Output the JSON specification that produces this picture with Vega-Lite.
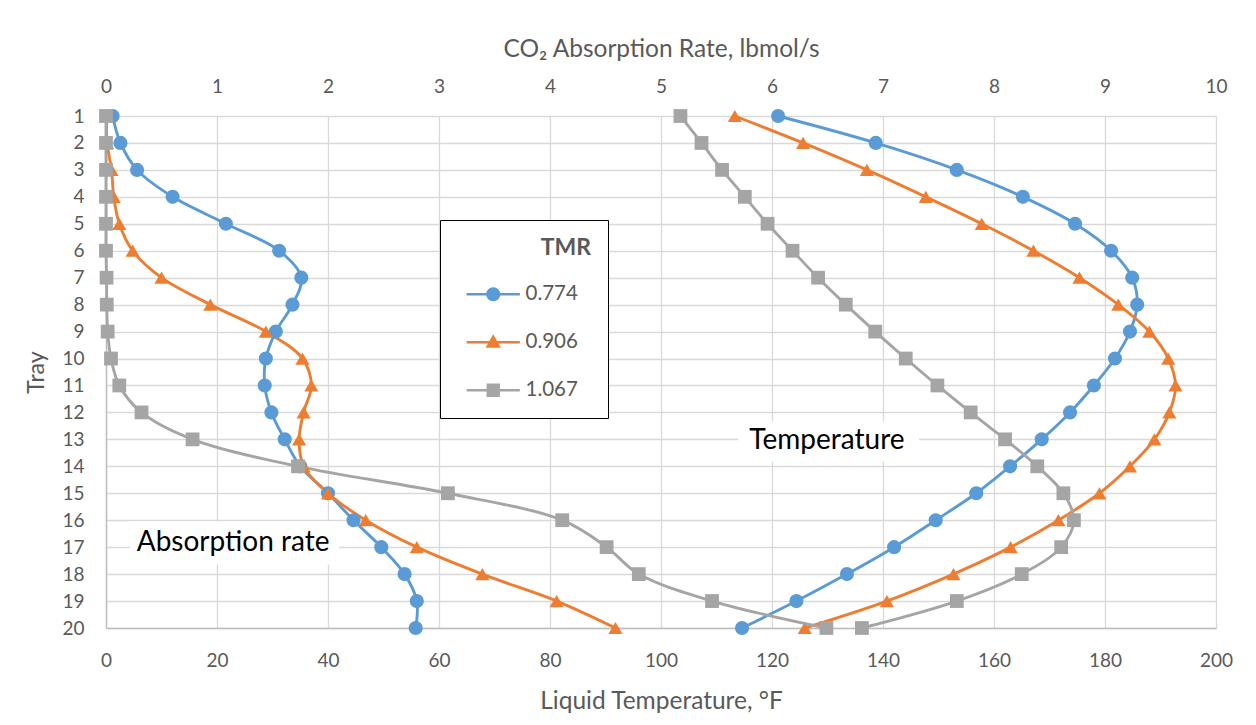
{
  "$schema": "https://vega.github.io/schema/vega-lite/v6.json",
  "width": 1110,
  "height": 512,
  "autosize": {"type": "none"},
  "padding": {"left": 106, "top": 116, "right": 40, "bottom": 97},
  "background": "white",
  "config": {
    "font": "Lato",
    "view": {"stroke": null},
    "axis": {
      "labelColor": "#595959", "titleColor": "#595959", "labelFontSize": 19, "titleFontSize": 24.5,
      "titleFontWeight": "normal", "ticks": false, "tickSize": 0, "gridColor": "#D9D9D9", "gridWidth": 1.3,
      "domainColor": "#BFBFBF", "domainWidth": 1.5, "labelFont": "Lato", "titleFont": "Lato", "labelFlush": false,
      "labelOverlap": false
    }
  },
  "datasets": {
    "trays": [
      {"tmr": "0.774", "tray": 1, "temp": 121.1, "rate": 0.06},
      {"tmr": "0.774", "tray": 2, "temp": 138.7, "rate": 0.13},
      {"tmr": "0.774", "tray": 3, "temp": 153.3, "rate": 0.28},
      {"tmr": "0.774", "tray": 4, "temp": 165.2, "rate": 0.6},
      {"tmr": "0.774", "tray": 5, "temp": 174.6, "rate": 1.08},
      {"tmr": "0.774", "tray": 6, "temp": 181.1, "rate": 1.56},
      {"tmr": "0.774", "tray": 7, "temp": 184.9, "rate": 1.76},
      {"tmr": "0.774", "tray": 8, "temp": 185.8, "rate": 1.68},
      {"tmr": "0.774", "tray": 9, "temp": 184.5, "rate": 1.53},
      {"tmr": "0.774", "tray": 10, "temp": 181.8, "rate": 1.44},
      {"tmr": "0.774", "tray": 11, "temp": 178.0, "rate": 1.43},
      {"tmr": "0.774", "tray": 12, "temp": 173.7, "rate": 1.49},
      {"tmr": "0.774", "tray": 13, "temp": 168.6, "rate": 1.61},
      {"tmr": "0.774", "tray": 14, "temp": 162.9, "rate": 1.75},
      {"tmr": "0.774", "tray": 15, "temp": 156.8, "rate": 2.0},
      {"tmr": "0.774", "tray": 16, "temp": 149.5, "rate": 2.23},
      {"tmr": "0.774", "tray": 17, "temp": 142.0, "rate": 2.48},
      {"tmr": "0.774", "tray": 18, "temp": 133.5, "rate": 2.69},
      {"tmr": "0.774", "tray": 19, "temp": 124.4, "rate": 2.8},
      {"tmr": "0.774", "tray": 20, "temp": 114.6, "rate": 2.79},
      {"tmr": "0.906", "tray": 1, "temp": 113.3, "rate": 0.005},
      {"tmr": "0.906", "tray": 2, "temp": 125.6, "rate": 0.01},
      {"tmr": "0.906", "tray": 3, "temp": 137.1, "rate": 0.05},
      {"tmr": "0.906", "tray": 4, "temp": 147.7, "rate": 0.07},
      {"tmr": "0.906", "tray": 5, "temp": 157.8, "rate": 0.12},
      {"tmr": "0.906", "tray": 6, "temp": 167.1, "rate": 0.24},
      {"tmr": "0.906", "tray": 7, "temp": 175.4, "rate": 0.5},
      {"tmr": "0.906", "tray": 8, "temp": 182.4, "rate": 0.94},
      {"tmr": "0.906", "tray": 9, "temp": 188.0, "rate": 1.44},
      {"tmr": "0.906", "tray": 10, "temp": 191.4, "rate": 1.77},
      {"tmr": "0.906", "tray": 11, "temp": 192.7, "rate": 1.85},
      {"tmr": "0.906", "tray": 12, "temp": 191.6, "rate": 1.78},
      {"tmr": "0.906", "tray": 13, "temp": 188.9, "rate": 1.74},
      {"tmr": "0.906", "tray": 14, "temp": 184.5, "rate": 1.78},
      {"tmr": "0.906", "tray": 15, "temp": 179.0, "rate": 2.0},
      {"tmr": "0.906", "tray": 16, "temp": 171.6, "rate": 2.34},
      {"tmr": "0.906", "tray": 17, "temp": 163.0, "rate": 2.8},
      {"tmr": "0.906", "tray": 18, "temp": 152.7, "rate": 3.39},
      {"tmr": "0.906", "tray": 19, "temp": 140.7, "rate": 4.06},
      {"tmr": "0.906", "tray": 20, "temp": 125.9, "rate": 4.59},
      {"tmr": "1.067", "tray": 1, "temp": 103.5, "rate": 0.0},
      {"tmr": "1.067", "tray": 2, "temp": 107.3, "rate": 0.0},
      {"tmr": "1.067", "tray": 3, "temp": 111.0, "rate": 0.0},
      {"tmr": "1.067", "tray": 4, "temp": 115.1, "rate": 0.0},
      {"tmr": "1.067", "tray": 5, "temp": 119.2, "rate": 0.0},
      {"tmr": "1.067", "tray": 6, "temp": 123.7, "rate": 0.0},
      {"tmr": "1.067", "tray": 7, "temp": 128.3, "rate": 0.005},
      {"tmr": "1.067", "tray": 8, "temp": 133.3, "rate": 0.007},
      {"tmr": "1.067", "tray": 9, "temp": 138.6, "rate": 0.015},
      {"tmr": "1.067", "tray": 10, "temp": 144.1, "rate": 0.045},
      {"tmr": "1.067", "tray": 11, "temp": 149.8, "rate": 0.12},
      {"tmr": "1.067", "tray": 12, "temp": 155.8, "rate": 0.32},
      {"tmr": "1.067", "tray": 13, "temp": 162.0, "rate": 0.78},
      {"tmr": "1.067", "tray": 14, "temp": 167.8, "rate": 1.73},
      {"tmr": "1.067", "tray": 15, "temp": 172.5, "rate": 3.08},
      {"tmr": "1.067", "tray": 16, "temp": 174.4, "rate": 4.11},
      {"tmr": "1.067", "tray": 17, "temp": 172.1, "rate": 4.51},
      {"tmr": "1.067", "tray": 18, "temp": 165.0, "rate": 4.8},
      {"tmr": "1.067", "tray": 19, "temp": 153.3, "rate": 5.46},
      {"tmr": "1.067", "tray": 20, "temp": 136.2, "rate": 6.49}
    ]
  },
  "data": {"name": "trays"},
  "layer": [
    {
      "layer": [
        {
          "mark": {"type": "point", "filled": true, "opacity": 1, "size": 0},
          "encoding": {
            "x": {"field": "temp", "type": "quantitative", "scale": {"domain": [0, 200], "nice": false, "zero": false}},
            "y": {"field": "tray", "type": "quantitative", "scale": {"domain": [1, 20], "reverse": true, "nice": false, "zero": false}},
            "color": {"field": "tmr", "type": "nominal",
              "scale": {"domain": ["0.774", "0.906", "1.067"], "range": ["#5B9BD5", "#ED7D31", "#A5A5A5"]},
              "legend": {
                "orient": "none", "legendX": 334, "legendY": 104, "title": "TMR\u00a0\u00a0\u00a0\u00a0",
                "titleFontWeight": "bold", "titleFontSize": 23, "titleColor": "#595959", "titleAnchor": "end", "titlePadding": 24,
                "labelFontSize": 20.5, "labelColor": "#595959", "labelOffset": 22,
                "fillColor": "white", "strokeColor": "black", "padding": 17, "rowPadding": 27,
                "symbolSize": 196, "symbolOffset": 26, "symbolOpacity": 1, "symbolStrokeWidth": 0
              }},
            "shape": {"field": "tmr", "type": "nominal",
              "scale": {"domain": ["0.774", "0.906", "1.067"], "range": [
                "M-3.8,-0.18H3.8V0.18H-3.8Z M-1,0A1,1,0,1,1,1,0A1,1,0,1,1,-1,0Z M13.9,0",
                "M-3.8,-0.18H3.8V0.18H-3.8Z M0,-1.15L1.1,0.8L-1.1,0.8Z M13.9,0",
                "M-3.8,-0.18H3.8V0.18H-3.8Z M-0.95,-0.95H0.95V0.95H-0.95Z M13.9,0"
              ]}}
          }
        },
        {
          "mark": {"type": "line", "interpolate": "catmull-rom", "strokeWidth": 2.9},
          "encoding": {
            "x": {"field": "temp", "type": "quantitative",
              "axis": {"orient": "bottom", "values": [0, 20, 40, 60, 80, 100, 120, 140, 160, 180, 200], "grid": true, "domain": true,
                "labelPadding": 23, "title": "Liquid Temperature, °F", "titlePadding": 19}},
            "y": {"field": "tray", "type": "quantitative",
              "axis": {"values": [1, 2, 3, 4, 5, 6, 7, 8, 9, 10, 11, 12, 13, 14, 15, 16, 17, 18, 19, 20], "tickCount": 20, "grid": true, "domain": true,
                "labelOverlap": false, "labelPadding": 22, "title": "Tray", "titlePadding": 13, "titleFontSize": 23, "format": "d"}},
            "color": {"field": "tmr", "type": "nominal", "legend": null},
            "order": {"field": "tray", "type": "quantitative"}
          }
        },
        {
          "data": {"values": [
            {"tx1": 113.9, "tx2": 146.5, "ty1": 12.34, "ty2": 13.82},
            {"tx1": 4.3, "tx2": 42.0, "ty1": 16.05, "ty2": 17.64}
          ]},
          "mark": {"type": "rect", "fill": "white"},
          "encoding": {
            "x": {"field": "tx1", "type": "quantitative"},
            "x2": {"field": "tx2"},
            "y": {"field": "ty1", "type": "quantitative"},
            "y2": {"field": "ty2"}
          }
        },
        {
          "data": {"values": [
            {"label": "Temperature", "tx": 129.9, "ty": 13.05},
            {"label": "Absorption rate", "tx": 22.9, "ty": 16.83}
          ]},
          "mark": {"type": "text", "fontSize": 28, "font": "Lato", "color": "#000000", "align": "center", "baseline": "middle"},
          "encoding": {
            "x": {"field": "tx", "type": "quantitative"},
            "y": {"field": "ty", "type": "quantitative"},
            "text": {"field": "label"}
          }
        },
        {
          "transform": [{"filter": "datum.tmr === '0.774'"}],
          "mark": {"type": "point", "filled": true, "shape": "circle", "size": 200, "opacity": 1, "color": "#5B9BD5"},
          "encoding": {"x": {"field": "temp", "type": "quantitative"}, "y": {"field": "tray", "type": "quantitative"}}
        },
        {
          "transform": [{"filter": "datum.tmr === '0.906'"}],
          "mark": {"type": "point", "filled": true, "shape": "triangle-up", "size": 200, "opacity": 1, "color": "#ED7D31"},
          "encoding": {"x": {"field": "temp", "type": "quantitative"}, "y": {"field": "tray", "type": "quantitative"}}
        },
        {
          "transform": [{"filter": "datum.tmr === '1.067'"}],
          "mark": {"type": "point", "filled": true, "shape": "square", "size": 190, "opacity": 1, "color": "#A5A5A5"},
          "encoding": {"x": {"field": "temp", "type": "quantitative"}, "y": {"field": "tray", "type": "quantitative"}}
        }
      ]
    },
    {
      "layer": [
        {
          "mark": {"type": "line", "interpolate": "catmull-rom", "strokeWidth": 2.9},
          "encoding": {
            "x": {"field": "rate", "type": "quantitative", "scale": {"domain": [0, 10], "nice": false, "zero": false},
              "axis": {"orient": "top", "values": [0, 1, 2, 3, 4, 5, 6, 7, 8, 9, 10], "grid": false, "domain": false, "format": "d",
                "labelPadding": 20, "title": "CO₂ Absorption Rate, lbmol/s", "titlePadding": 16}},
            "y": {"field": "tray", "type": "quantitative"},
            "color": {"field": "tmr", "type": "nominal", "legend": null},
            "order": {"field": "tray", "type": "quantitative"}
          }
        },
        {
          "transform": [{"filter": "datum.tmr === '0.774'"}],
          "mark": {"type": "point", "filled": true, "shape": "circle", "size": 200, "opacity": 1, "color": "#5B9BD5"},
          "encoding": {"x": {"field": "rate", "type": "quantitative"}, "y": {"field": "tray", "type": "quantitative"}}
        },
        {
          "transform": [{"filter": "datum.tmr === '0.906'"}],
          "mark": {"type": "point", "filled": true, "shape": "triangle-up", "size": 200, "opacity": 1, "color": "#ED7D31"},
          "encoding": {"x": {"field": "rate", "type": "quantitative"}, "y": {"field": "tray", "type": "quantitative"}}
        },
        {
          "transform": [{"filter": "datum.tmr === '1.067'"}],
          "mark": {"type": "point", "filled": true, "shape": "square", "size": 190, "opacity": 1, "color": "#A5A5A5"},
          "encoding": {"x": {"field": "rate", "type": "quantitative"}, "y": {"field": "tray", "type": "quantitative"}}
        }
      ]
    }
  ],
  "resolve": {"scale": {"x": "independent"}}
}
